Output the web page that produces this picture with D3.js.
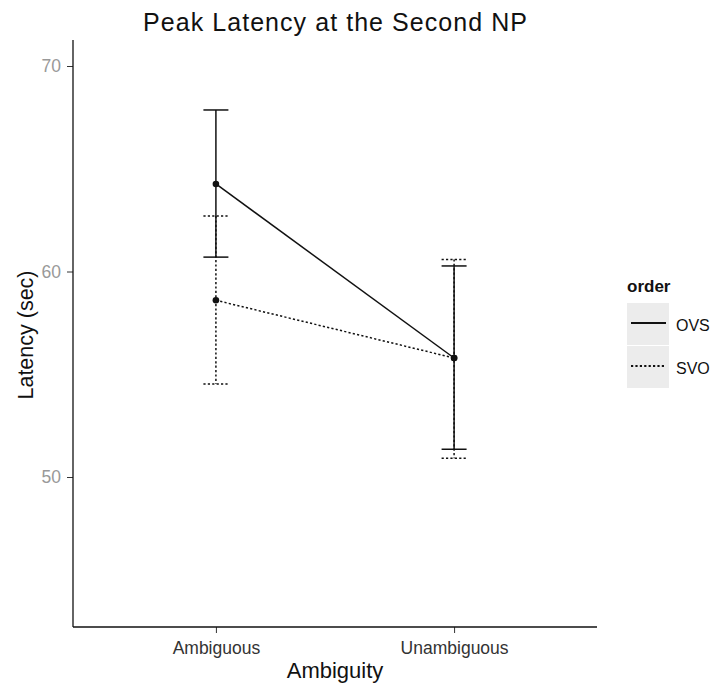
<!DOCTYPE html>
<html><head><meta charset="utf-8">
<script src="https://cdn.jsdelivr.net/npm/d3@7"></script>
<style>body{margin:0;background:#fff;font-family:"Liberation Sans",Arial,sans-serif;}</style>
</head><body><svg id="c" width="717" height="687"></svg>
<script>
const categories = ["Ambiguous", "Unambiguous"];
const seriesNames = ["OVS", "SVO"];
const ovsMean = [64.26, 55.79];
const ovsLow = [60.7, 51.35];
const ovsHigh = [67.86, 60.27];
const svoMean = [58.6, 55.79];
const svoLow = [54.53, 50.91];
const svoHigh = [62.7, 60.59];
const yTicks = [50, 60, 70];

const series = [
  {name: seriesNames[0], mean: ovsMean, low: ovsLow, high: ovsHigh, dash: null},
  {name: seriesNames[1], mean: svoMean, low: svoLow, high: svoHigh, dash: "2.2,2.2"}
];

const FONT = "Liberation Sans, Arial, sans-serif";
const svg = d3.select("#c");
const L = 73, R = 597, T = 40, B = 627;
const y = d3.scaleLinear().domain([50, 70]).range([477, 66]);
const x = d3.scalePoint().domain(categories).range([L, R]).padding(0.6);

const ink = "#111";
// axes
const yAxis = svg.append("g").attr("transform", `translate(${L},0)`)
  .call(d3.axisLeft(y).tickValues(yTicks).tickSize(6).tickPadding(6).tickFormat(d3.format("d")));
yAxis.select(".domain").remove();
yAxis.selectAll("line").attr("stroke", "#333");
yAxis.selectAll("text").attr("fill", "#999").style("font-size", "17.5px").style("font-family", FONT);

const xAxis = svg.append("g").attr("transform", `translate(0,${B})`)
  .call(d3.axisBottom(x).tickSize(6).tickPadding(9));
xAxis.select(".domain").remove();
xAxis.selectAll("line").attr("stroke", "#333");
xAxis.selectAll("text").attr("fill", "#333").style("font-size", "17.5px").style("font-family", FONT);

svg.append("line").attr("x1", L).attr("x2", L).attr("y1", T).attr("y2", B).attr("stroke", ink).attr("stroke-width", 1.3);
svg.append("line").attr("x1", L).attr("x2", R).attr("y1", B).attr("y2", B).attr("stroke", ink).attr("stroke-width", 1.3);

const capW = 12.5;
series.forEach(s => {
  const g = svg.append("g");
  const line = d3.line().x((d, i) => x(categories[i])).y(d => y(d));
  g.append("path").attr("d", line(s.mean)).attr("fill", "none").attr("stroke", ink)
    .attr("stroke-width", 1.5).attr("stroke-dasharray", s.dash);
  categories.forEach((c, i) => {
    const cx = x(c);
    g.append("line").attr("x1", cx).attr("x2", cx).attr("y1", y(s.high[i])).attr("y2", y(s.low[i]))
      .attr("stroke", ink).attr("stroke-width", 1.5).attr("stroke-dasharray", s.dash);
    [s.high[i], s.low[i]].forEach(v => {
      g.append("line").attr("x1", cx - capW).attr("x2", cx + capW).attr("y1", y(v)).attr("y2", y(v))
        .attr("stroke", ink).attr("stroke-width", 1.5).attr("stroke-dasharray", s.dash);
    });
  });
});
series.forEach(s => {
  categories.forEach((c, i) => {
    svg.append("circle").attr("cx", x(c)).attr("cy", y(s.mean[i])).attr("r", 3.3).attr("fill", ink);
  });
});

// titles
svg.append("text").attr("x", 335).attr("y", 31).attr("text-anchor", "middle")
  .style("font-size", "25px").style("font-family", FONT).attr("fill", "#111")
  .attr("textLength", 384).attr("lengthAdjust", "spacing").text("Peak Latency at the Second NP");
svg.append("text").attr("x", 335).attr("y", 678).attr("text-anchor", "middle")
  .style("font-size", "22px").style("font-family", FONT).attr("fill", "#111").text("Ambiguity");
svg.append("text").attr("transform", "translate(33,335) rotate(-90)").attr("text-anchor", "middle")
  .style("font-size", "21.5px").style("font-family", FONT).attr("fill", "#111").text("Latency (sec)");

// legend
const lg = svg.append("g");
lg.append("text").attr("x", 627).attr("y", 292).style("font-size", "17px").style("font-weight", "bold")
  .style("font-family", FONT).attr("fill", "#111").text("order");
series.forEach((s, i) => {
  const ky = 303 + i * 43;
  lg.append("rect").attr("x", 627).attr("y", ky).attr("width", 42).attr("height", 42).attr("fill", "#ececec");
  lg.append("line").attr("x1", 631).attr("x2", 666).attr("y1", ky + 20).attr("y2", ky + 20)
    .attr("stroke", ink).attr("stroke-width", 1.8).attr("stroke-dasharray", s.dash);
  lg.append("text").attr("x", 676).attr("y", ky + 28).style("font-size", "16px").style("font-family", FONT)
    .attr("fill", "#111").text(s.name);
});
</script></body></html>
